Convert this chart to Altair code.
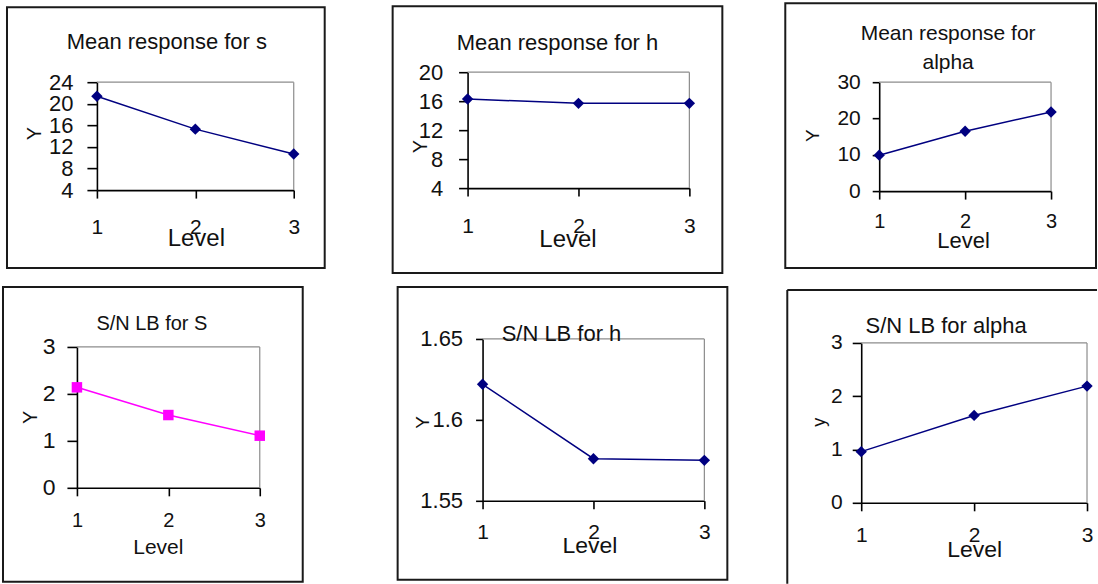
import altair as alt
import pandas as pd

# ---------------- data ----------------
levels = [1, 2, 3]
mean_s = [21.4, 15.3, 10.7]
mean_h = [16.3, 15.7, 15.7]
mean_alpha = [9.9, 16.5, 21.8]
sn_s = [2.14, 1.55, 1.11]
sn_h = [1.622, 1.576, 1.575]
sn_alpha = [0.96, 1.64, 2.19]

series = [mean_s, mean_h, mean_alpha, sn_s, sn_h, sn_alpha]
titles = [["Mean response for s"], ["Mean response for h"],
          ["Mean response for", "alpha"], ["S/N LB for S"],
          ["S/N LB for h"], ["S/N LB for alpha"]]
y_titles = ["Y", "Y", "Y", "Y", "Y", "y"]
x_title = "Level"
y_domains = [[4, 24], [4, 20], [0, 30], [0, 3], [1.55, 1.65], [0, 3]]
y_ticks = [[4, 8, 12, 16, 20, 24], [4, 8, 12, 16, 20], [0, 10, 20, 30],
           [0, 1, 2, 3], [1.55, 1.6, 1.65], [0, 1, 2, 3]]

FONT = "Liberation Sans"
TXT = "#111111"

# ---------------- layout / style of each panel (cell coordinates) ----------------
layout = [
    dict(cw=390, ch=280, frame=(7, 7, 325, 268), px=(97, 294), py=(82, 190),
         tpos=[(167, 42)], tfs=22, lvl=(196, 48), lfs=24, yt=(-62, 133), ytfs=20,
         ylfs=22, ytick=10, ylpad=14, xlfs=21, xlpad=29, color="#000080", shape="diamond"),
    dict(cw=390, ch=280, frame=(3, 6, 333, 273), px=(78, 300), py=(72, 188),
         tpos=[(168, 43)], tfs=22, lvl=(178, 51), lfs=24, yt=(-47, 146), ytfs=20,
         ylfs=22, ytick=9, ylpad=16, xlfs=21, xlpad=30, color="#000080", shape="diamond"),
    dict(cw=318, ch=280, frame=(6, 3, 317, 268), px=(100, 272), py=(82, 191),
         tpos=[(169, 34), (169, 63)], tfs=21, lvl=(184, 49), lfs=22, yt=(-67, 135), ytfs=19,
         ylfs=21, ytick=7, ylpad=12, xlfs=20, xlpad=22, color="#000080", shape="diamond"),
    dict(cw=390, ch=304, frame=(3, 7, 303, 302), px=(77, 260), py=(67, 208),
         tpos=[(152, 44)], tfs=20, lvl=(158, 60), lfs=21, yt=(-46, 137), ytfs=20,
         ylfs=23, ytick=10, ylpad=12, xlfs=20, xlpad=25, color="#FF00FF", shape="square"),
    dict(cw=390, ch=304, frame=(8, 7, 338, 300), px=(93, 315), py=(59, 221),
         tpos=[(172, 54)], tfs=22, lvl=(200, 45), lfs=23, yt=(-60, 142), ytfs=19,
         ylfs=22, ytick=7, ylpad=13, xlfs=21, xlpad=24, color="#000080", shape="diamond"),
    dict(cw=318, ch=304, frame=(8, 10, None, None), px=(82, 308), py=(63, 223),
         tpos=[(167, 46)], tfs=22, lvl=(195, 47), lfs=23, yt=(-42, 142), ytfs=18,
         ylfs=21, ytick=9, ylpad=10, xlfs=21, xlpad=25, color="#000080", shape="diamond"),
]


def panel(i):
    L = layout[i]
    vals = series[i]
    ymin, ymax = y_domains[i]
    df = pd.DataFrame({"level": levels, "value": vals})

    xs = alt.Scale(type="point", domain=levels, range=[L["px"][0], L["px"][1]], padding=0)
    ys = alt.Scale(domain=[ymin, ymax], range=[L["py"][1], L["py"][0]], nice=False, zero=False)

    xaxis = alt.Axis(
        orient="bottom", grid=False,
        offset=L["py"][1] - L["ch"], tickSize=8, tickColor="black", tickWidth=1.6,
        domainColor="black", domainWidth=1.6, labelFont=FONT, labelFontSize=L["xlfs"],
        labelColor=TXT, labelPadding=L["xlpad"], labelBaseline="middle", labelAngle=0,
        labelAlign="center", labelFlush=False, labelOverlap=False, title=x_title, titleFont=FONT,
        titleFontSize=L["lfs"], titleFontWeight="normal", titleColor=TXT,
        titleX=L["lvl"][0], titleY=L["lvl"][1], titleAlign="center", titleBaseline="middle",
    )
    yaxis = alt.Axis(
        orient="left", values=y_ticks[i], tickCount=len(y_ticks[i]), format=".3~g", grid=False,
        offset=-L["px"][0], tickSize=L["ytick"], tickColor="black", tickWidth=1.6,
        domainColor="black", domainWidth=1.6, labelFont=FONT, labelFontSize=L["ylfs"],
        labelColor=TXT, labelPadding=L["ylpad"], labelFlush=False, labelOverlap=False,
        title=y_titles[i], titleFont=FONT, titleFontSize=L["ytfs"], titleFontWeight="normal",
        titleColor=TXT, titleAngle=270, titleX=L["yt"][0], titleY=L["yt"][1],
        titleAlign="center", titleBaseline="middle",
    )

    def X(field):
        return alt.X(field, type="ordinal", scale=xs, axis=xaxis)

    def Y(field):
        return alt.Y(field, type="quantitative", scale=ys, axis=yaxis)

    layers = []
    one = pd.DataFrame({"k": [0]})

    # outer frame
    fx0, fy0, fx1, fy1 = L["frame"]
    if fx1 is not None:
        layers.append(
            alt.Chart(one).mark_rect(fillOpacity=0, stroke="#1a1a1a", strokeWidth=2).encode(
                x=alt.value(fx0), x2=alt.value(fx1), y=alt.value(fy0), y2=alt.value(fy1))
        )
    else:
        layers.append(
            alt.Chart(one).mark_rule(color="#1a1a1a", strokeWidth=2).encode(
                x=alt.value(fx0), y=alt.value(fy0), y2=alt.value(L["ch"]))
        )
        layers.append(
            alt.Chart(one).mark_rule(color="#1a1a1a", strokeWidth=2).encode(
                x=alt.value(fx0), x2=alt.value(L["cw"]), y=alt.value(fy0))
        )

    # grey plot-area border (top and right)
    top_df = pd.DataFrame({"level": [levels[0]], "level2": [levels[-1]], "value": [ymax]})
    right_df = pd.DataFrame({"level": [levels[-1]], "value": [ymin], "value2": [ymax]})
    layers.append(
        alt.Chart(top_df).mark_rule(color="#8c8c8c", strokeWidth=1.2).encode(
            x=X("level"), x2="level2", y=Y("value"))
    )
    layers.append(
        alt.Chart(right_df).mark_rule(color="#8c8c8c", strokeWidth=1.2).encode(
            x=X("level"), y=Y("value"), y2="value2")
    )

    # series
    layers.append(
        alt.Chart(df).mark_line(color=L["color"], strokeWidth=1.5).encode(x=X("level"), y=Y("value"))
    )
    size = 130 if L["shape"] == "diamond" else 110
    layers.append(
        alt.Chart(df).mark_point(shape=L["shape"], filled=True, size=size, opacity=1,
                                 color=L["color"]).encode(x=X("level"), y=Y("value"))
    )

    # chart title lines
    for line, (tx, ty) in zip(titles[i], L["tpos"]):
        tdf = pd.DataFrame({"t": [line]})
        layers.append(
            alt.Chart(tdf).mark_text(font=FONT, fontSize=L["tfs"], color=TXT, align="center",
                                     baseline="middle").encode(
                text="t:N", x=alt.value(tx), y=alt.value(ty))
        )

    return alt.layer(*layers).properties(width=L["cw"], height=L["ch"])


chart = (
    alt.concat(*[panel(i) for i in range(6)], columns=3, spacing=0, bounds="flush")
    .properties(padding=0, background="white")
    .configure_view(strokeWidth=0)
)

chart.save("out.html", embed_options={"renderer": "svg", "actions": False})
